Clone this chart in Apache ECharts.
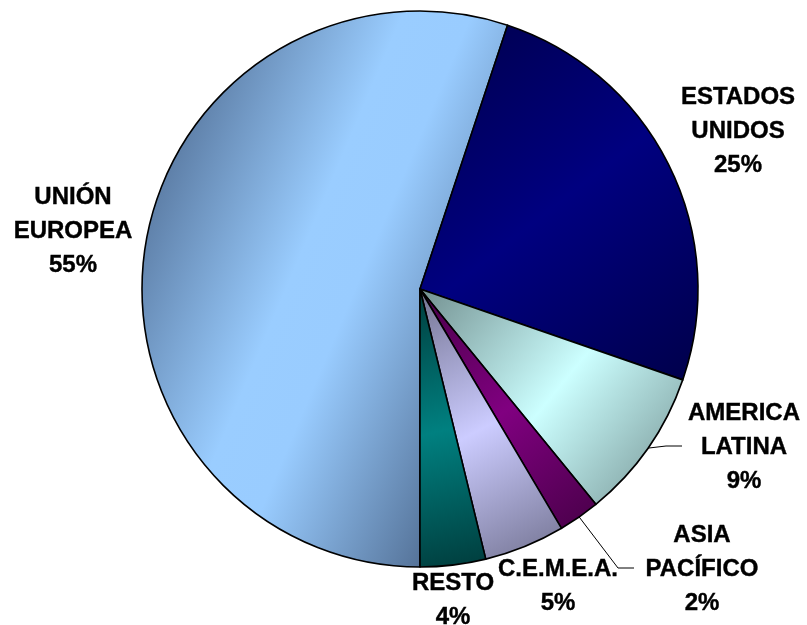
<!DOCTYPE html>
<html>
<head>
<meta charset="utf-8">
<script src="https://cdn.jsdelivr.net/npm/echarts@6/dist/echarts.min.js"></script>
<style>
html,body{margin:0;padding:0;background:#fff;}
#chart{width:807px;height:625px;}
</style>
</head>
<body>
<div id="chart"></div>
<script>
// Data
const categories = ['UNIÓN\nEUROPEA', 'ESTADOS\nUNIDOS', 'AMERICA\nLATINA', 'ASIA\nPACÍFICO', 'C.E.M.E.A.', 'RESTO'];
const values = [55.1, 25.2, 8.8, 2.4, 4.7, 3.8];

// Styles
const baseColors = ['#99ccff', '#000080', '#ccffff', '#800080', '#ccccff', '#008080'];
const darkColors = ['#5a7aa2', '#00004a', '#728f8f', '#480048', '#727290', '#003c3c'];
const labelPos = [[73, 231], [738, 131], [744, 447], [702, 569], [558, 586], [453, 600]];
const leaderTail = [null, null, [[666, 446], [682, 446]], [[618, 568], [634, 568]], null, null];

function grad(i) {
  if (i === 0) {
    // shading of the large slice: light band running from top towards lower-left
    return new echarts.graphic.LinearGradient(193, 82, 558, 237, [
      { offset: 0, color: darkColors[0] },
      { offset: 0.42, color: '#9acdff' },
      { offset: 0.58, color: baseColors[0] },
      { offset: 1, color: '#56749a' }
    ], true);
  }
  return new echarts.graphic.LinearGradient(0, 0, 1, 1, [
    { offset: 0, color: darkColors[i] },
    { offset: 0.5, color: baseColors[i] },
    { offset: 1, color: darkColors[i] }
  ]);
}

const chart = echarts.init(document.getElementById('chart'), null, { renderer: 'canvas' });
chart.setOption({
  backgroundColor: '#ffffff',
  animation: false,
  series: [{
    type: 'pie',
    center: [420, 289],
    radius: 278,
    startAngle: 270,
    clockwise: true,
    avoidLabelOverlap: false,
    percentPrecision: 0,
    itemStyle: { borderColor: '#000', borderWidth: 1.6 },
    label: {
      show: true,
      position: 'outside',
      formatter: '{b}\n{d}%',
      fontFamily: 'Liberation Sans, Arial, sans-serif',
      fontWeight: 'bold',
      fontSize: 24,
      lineHeight: 34,
      color: '#000',
      textBorderColor: '#000',
      textBorderWidth: 0.4,
      align: 'center'
    },
    labelLine: { show: true, length: 10, length2: 10, lineStyle: { color: '#000', width: 1 } },
    labelLayout: function (params) {
      const i = params.dataIndex;
      const p = labelPos[i];
      const out = { x: p[0], y: p[1], align: 'center', verticalAlign: 'middle' };
      if (leaderTail[i] && params.labelLinePoints) {
        out.labelLinePoints = [params.labelLinePoints[0], leaderTail[i][0], leaderTail[i][1]];
      }
      return out;
    },
    data: categories.map(function (name, i) {
      return {
        name: name,
        value: values[i],
        itemStyle: { color: grad(i) },
        labelLine: { show: !!leaderTail[i] }
      };
    })
  }]
});
</script>
</body>
</html>
